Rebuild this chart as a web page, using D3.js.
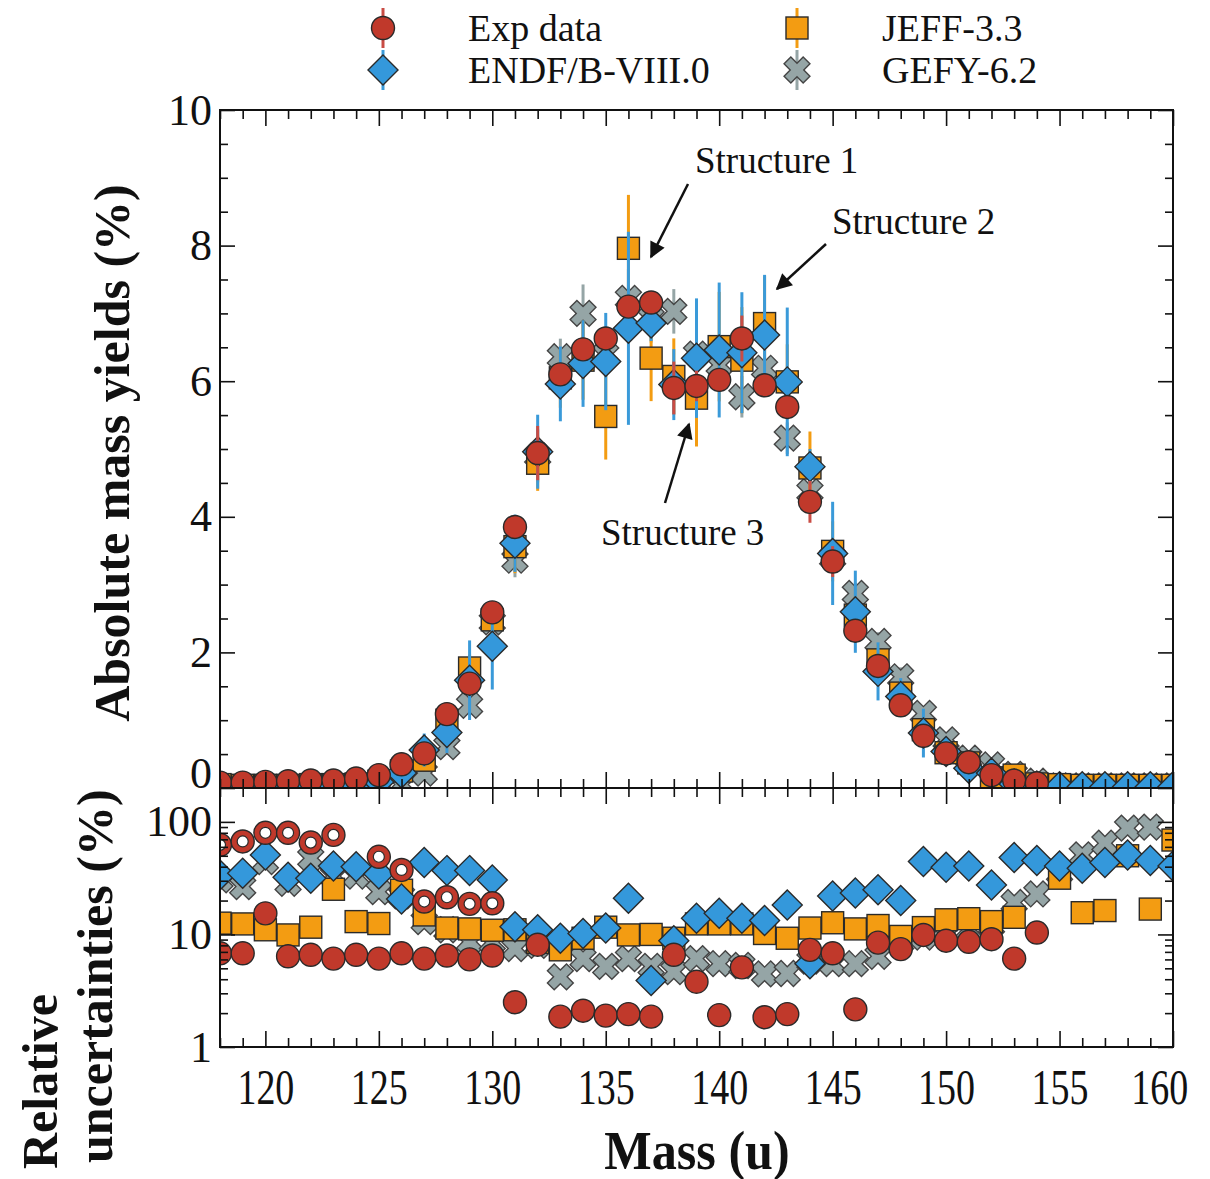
<!DOCTYPE html>
<html>
<head>
<meta charset="utf-8">
<script src="https://cdn.jsdelivr.net/npm/d3@7"></script>
<style>
  body { margin: 0; background: #fff; }
  text { font-family: "Liberation Serif", "Times New Roman", serif; fill: #111; }
</style>
</head>
<body>
<div id="chart"></div>
<script>
// ==============================
// DATA
// ==============================

const masses = [118, 119, 120, 121, 122, 123, 124, 125, 126, 127, 128, 129, 130, 131, 132, 133, 134, 135, 136, 137, 138,
  139, 140, 141, 142, 143, 144, 145, 146, 147, 148, 149, 150, 151, 152, 153, 154, 155, 156, 157, 158, 159, 160];

// Absolute mass yields (%)
const expYield = [0.08, 0.08, 0.09, 0.10, 0.11, 0.11, 0.14, 0.19, 0.35, 0.51, 1.09, 1.54, 2.59, 3.85, 4.94, 6.10, 6.47, 6.63, 7.10, 7.16, 5.90,
  5.93, 6.02, 6.63, 5.94, 5.62, 4.22, 3.34, 2.32, 1.80, 1.22, 0.77, 0.51, 0.38, 0.19, 0.11, 0.07, null, null, null, null, null, null];
const endfYield = [0.02, 0.02, 0.02, 0.02, 0.02, 0.03, 0.04, 0.09, 0.22, 0.56, 0.82, 1.59, 2.09, 3.61, 4.96, 5.96, 6.26, 6.29, 6.78, 6.86, 5.95,
  6.34, 6.46, 6.42, 6.68, 5.99, 4.74, 3.46, 2.60, 1.72, 1.35, 0.81, 0.54, 0.29, 0.22, 0.06, 0.03, 0.02, 0.02, 0.02, 0.02, 0.02, 0.02];
const jeffYield = [0.05, 0.04, 0.04, 0.04, 0.05, 0.05, 0.06, 0.10, 0.25, 0.41, 1.00, 1.77, 2.48, 3.56, 4.79, 6.05, 6.31, 5.48, 7.96, 6.34, 6.07,
  5.75, 6.51, 6.31, 6.85, 5.99, 4.72, 3.49, 2.55, 1.89, 1.40, 0.86, 0.52, 0.37, 0.15, 0.19, 0.06, 0.05, 0.04, 0.04, 0.04, 0.04, 0.04];
const gefyYield = [0.02, 0.02, 0.02, 0.02, 0.02, 0.02, 0.02, 0.02, 0.05, 0.22, 0.61, 1.22, 2.45, 3.36, 4.90, 6.36, 7.00, 6.40, 7.22, 6.93, 7.03,
  6.40, 6.24, 5.77, 6.19, 5.16, 4.37, 3.40, 2.87, 2.16, 1.64, 1.10, 0.71, 0.44, 0.34, 0.20, 0.10, 0.03, 0.03, 0.03, 0.03, 0.03, 0.03];

// Relative uncertainties (%)
const expRel = [6.8, 6.8, 15.4, 6.4, 6.6, 6.1, 6.6, 6.1, 6.8, 6.1, 6.5, 6.0, 6.5, 2.5, 8.1, 1.86, 2.1, 1.9, 1.96, 1.86, 6.6,
  3.8, 1.92, 5.1, 1.84, 1.96, 7.3, 6.8, 2.16, 8.45, 7.4, 9.9, 8.8, 8.6, 9.07, 6.1, 10.4, null, null, null, null, null, null];
const expRelOpen = [62.5, 67, 80, 80, 65.5, 76.6, null, 49, 37.4, 19.6, 21.4, 18.7, 18.9, null, null, null, null, null, null, null, null,
  null, null, null, null, null, null, null, null, null, null, null, null, null, null, null, null, null, null, null, null, null, null];
const endfRel = [33.8, 35, 50.9, 32.2, 31.6, 40.6, 40, 34.5, 20.6, 43.5, 36.9, 36.9, 30.5, 11.7, 11, 9.25, 10.2, 11.4, 21, 3.9, 8.8,
  13.9, 15.4, 13.9, 13.3, 18.3, 5.5, 22, 23.3, 24.9, 20, 44.4, 39.6, 40.5, 27.5, 48.2, 45.3, 40.5, 38.8, 43.5, 50.9, 45.3, 40.5];
const jeffRel = [12.6, 12.4, 11, 9.9, 11.6, 25.2, 13, 12.5, 24.7, 14.9, 11.4, 11.2, 10.9, 11, 8.5, 7.3, 9.25, 11.6, 9.9, 10, 9.25,
  12.4, 12.4, 12.4, 10.2, 9.25, 11.4, 12.7, 11.2, 12.0, 9.6, 11.5, 13.5, 13.8, 13.0, 14.2, null, 31.6, 15.6, 16.3, 50, 16.8, 69];
const gefyRel = [30.5, 26.6, 44.4, 28.5, 47.6, 33, 33, 24, 22, 13, 11, 8.6, 8.5, 7.5, 8, 4.2, 6.1, 5.2, 6.1, 5.2, 4.67,
  6.1, 5.5, 5.3, 4.46, 4.5, 5.8, 5.5, 5.5, 6.4, 8.5, 9.5, 10, 11, 12, 19.2, 22.9, 35, 50.9, 64.6, 88, 89.8, null];

// Axis ticks
const xMajorTicks = [120, 125, 130, 135, 140, 145, 150, 155, 160];
const yTopTicks = [0, 2, 4, 6, 8, 10];
const yBotTicks = [1, 10, 100];
const yBotMinor = [2, 3, 4, 5, 6, 7, 8, 9, 20, 30, 40, 50, 60, 70, 80, 90];

// Annotations
const notes = [
  { label: "Structure 1", tx: 695, ty: 173, from: [688, 184], to: [651, 257] },
  { label: "Structure 2", tx: 832, ty: 234, from: [826, 244], to: [777, 289] },
  { label: "Structure 3", tx: 601, ty: 545, from: [665, 503], to: [689, 424] }
];

// ==============================
// GENERAL SETUP
// ==============================

const width = 1210;
const height = 1179;
const plotL = 220, plotR = 1173, plotT = 110, plotM = 788, plotB = 1047;

const svg = d3.select("#chart")
  .append("svg")
  .attr("width", width)
  .attr("height", height)
  .style("background-color", "#fff");

const x = d3.scaleLinear().domain([118, 160]).range([plotL, plotR]);
const yTop = d3.scaleLinear().domain([0, 10]).range([plotM, plotT]);
const yBot = d3.scaleLog().domain([1, 200]).range([plotB, plotM]);

const defs = svg.append("defs");
defs.append("clipPath").attr("id", "clip-top")
  .append("rect").attr("x", plotL).attr("y", plotT).attr("width", plotR - plotL).attr("height", plotM - plotT);
defs.append("clipPath").attr("id", "clip-bot")
  .append("rect").attr("x", plotL).attr("y", plotM).attr("width", plotR - plotL).attr("height", plotB - plotM);
defs.append("marker")
  .attr("id", "arrow")
  .attr("viewBox", "0 0 10 10")
  .attr("refX", 9).attr("refY", 5)
  .attr("markerWidth", 8).attr("markerHeight", 8)
  .attr("markerUnits", "userSpaceOnUse")
  .attr("orient", "auto")
  .append("path").attr("d", "M0,0L10,5L0,10Z").attr("fill", "#111");
defs.select("#arrow").attr("markerWidth", 20).attr("markerHeight", 16);

// Series (drawn bottom to top)
const series = [
  { name: "GEFY-6.2", yields: gefyYield, rel: gefyRel, color: "#95a5a6", bar: "#95a5a6", shape: "cross" },
  { name: "JEFF-3.3", yields: jeffYield, rel: jeffRel, color: "#f39c12", bar: "#f39c12", shape: "square" },
  { name: "ENDF/B-VIII.0", yields: endfYield, rel: endfRel, color: "#3498db", bar: "#3a9ad9", shape: "diamond" },
  { name: "Exp data", yields: expYield, rel: expRel, color: "#c0392b", bar: "#c94c44", shape: "circle" }
];

// ==============================
// MARKERS
// ==============================

const crossPts = [[-4.8, -13.5], [4.8, -13.5], [4.8, -4.8], [13.5, -4.8], [13.5, 4.8], [4.8, 4.8],
  [4.8, 13.5], [-4.8, 13.5], [-4.8, 4.8], [-13.5, 4.8], [-13.5, -4.8], [-4.8, -4.8]];
const crossPath = "M" + crossPts.map(p => p.join(",")).join("L") + "Z";

function drawMarker(g, shape, color, open) {
  const edge = "#2a2a2a";
  if (shape === "circle") {
    g.append("circle").attr("r", 11.5).attr("fill", color).attr("stroke", edge).attr("stroke-width", 1.4);
    if (open) {
      g.append("circle").attr("r", 5.5).attr("fill", "#fff").attr("stroke", edge).attr("stroke-width", 1.2);
    }
  } else if (shape === "square") {
    g.append("rect").attr("x", -11).attr("y", -11).attr("width", 22).attr("height", 22)
      .attr("fill", color).attr("stroke", edge).attr("stroke-width", 1.4);
  } else if (shape === "diamond") {
    g.append("path").attr("d", "M0,-15L15,0L0,15L-15,0Z")
      .attr("fill", color).attr("stroke", edge).attr("stroke-width", 1.4);
  } else {
    g.append("path").attr("d", crossPath).attr("transform", "rotate(45)")
      .attr("fill", color).attr("stroke", "#444").attr("stroke-width", 1.4);
  }
}

// ==============================
// TOP PANEL: ABSOLUTE YIELDS
// ==============================

const topLayer = svg.append("g").attr("clip-path", "url(#clip-top)");

series.forEach(s => {
  const pts = masses.map((m, i) => ({ m, v: s.yields[i], r: s.rel[i] }))
    .filter(d => d.v != null);

  topLayer.append("g").selectAll("line")
    .data(pts.filter(d => d.r != null))
    .join("line")
    .attr("x1", d => x(d.m)).attr("x2", d => x(d.m))
    .attr("y1", d => yTop(d.v - d.v * d.r / 100))
    .attr("y2", d => yTop(d.v + d.v * d.r / 100))
    .attr("stroke", s.bar)
    .attr("stroke-width", 3);

  topLayer.append("g").selectAll("g")
    .data(pts)
    .join("g")
    .attr("transform", d => `translate(${x(d.m)},${yTop(d.v)})`)
    .each(function () { drawMarker(d3.select(this), s.shape, s.color, false); });
});

// ==============================
// BOTTOM PANEL: RELATIVE UNCERTAINTIES
// ==============================

const botLayer = svg.append("g").attr("clip-path", "url(#clip-bot)");

series.forEach(s => {
  const pts = masses.map((m, i) => ({ m, r: s.rel[i] })).filter(d => d.r != null);
  botLayer.append("g").selectAll("g")
    .data(pts)
    .join("g")
    .attr("transform", d => `translate(${x(d.m)},${yBot(d.r)})`)
    .each(function () { drawMarker(d3.select(this), s.shape, s.color, false); });
});

// open circles of the experiment
botLayer.append("g").selectAll("g")
  .data(masses.map((m, i) => ({ m, r: expRelOpen[i] })).filter(d => d.r != null))
  .join("g")
  .attr("transform", d => `translate(${x(d.m)},${yBot(d.r)})`)
  .each(function () { drawMarker(d3.select(this), "circle", "#c0392b", true); });

// ==============================
// AXES, TICKS AND FRAMES
// ==============================

const xMinor = masses.filter(m => !xMajorTicks.includes(m));

function styleAxis(g) {
  g.select(".domain").remove();
  g.selectAll(".tick line").attr("stroke", "#111").attr("stroke-width", 1.6);
}

// x ticks on all four horizontal edges
[
  { y: plotT, axis: d3.axisTop, dir: -1 },
  { y: plotM, axis: d3.axisBottom, dir: -1 },
  { y: plotM, axis: d3.axisBottom, dir: 1 },
  { y: plotB, axis: d3.axisBottom, dir: -1 }
].forEach(e => {
  svg.append("g").attr("transform", `translate(0,${e.y})`)
    .call(e.axis(x).tickValues(xMajorTicks).tickSize(16 * e.dir).tickFormat(""))
    .call(styleAxis);
  svg.append("g").attr("transform", `translate(0,${e.y})`)
    .call(e.axis(x).tickValues(xMinor).tickSize(9 * e.dir).tickFormat(""))
    .call(styleAxis);
});

// x tick labels
const xLabels = svg.append("g").attr("transform", `translate(0,${plotB})`)
  .call(d3.axisBottom(x).tickValues(xMajorTicks).tickSize(0).tickPadding(22))
  .call(g => g.select(".domain").remove());
xLabels.selectAll("text")
  .attr("font-size", 50)
  .attr("transform", "scale(0.76,1)")
  .attr("fill", "#111");
xLabels.selectAll(".tick").filter(d => d === 160).select("text").attr("x", -18);

// top panel y ticks
const yTopMinor = d3.range(0.5, 10, 1).concat(d3.range(1, 10, 2));
svg.append("g").attr("transform", `translate(${plotL},0)`)
  .call(d3.axisLeft(yTop).tickValues(yTopTicks).tickSize(-15).tickPadding(8))
  .call(styleAxis)
  .call(g => g.selectAll("text").attr("font-size", 44).attr("fill", "#111"))
  .call(g => g.selectAll(".tick").filter(d => d === 0).select("text").attr("dy", "-0.02em"));
svg.append("g").attr("transform", `translate(${plotL},0)`)
  .call(d3.axisLeft(yTop).tickValues(yTopMinor).tickSize(-8).tickFormat(""))
  .call(styleAxis);
svg.append("g").attr("transform", `translate(${plotR},0)`)
  .call(d3.axisRight(yTop).tickValues(yTopTicks).tickSize(-15).tickFormat(""))
  .call(styleAxis);
svg.append("g").attr("transform", `translate(${plotR},0)`)
  .call(d3.axisRight(yTop).tickValues(yTopMinor).tickSize(-8).tickFormat(""))
  .call(styleAxis);

// bottom panel log y ticks
svg.append("g").attr("transform", `translate(${plotL},0)`)
  .call(d3.axisLeft(yBot).tickValues(yBotTicks).tickSize(-15).tickPadding(8).tickFormat(d3.format("d")))
  .call(styleAxis)
  .call(g => g.selectAll("text").attr("font-size", 44).attr("fill", "#111"));
svg.append("g").attr("transform", `translate(${plotL},0)`)
  .call(d3.axisLeft(yBot).tickValues(yBotMinor).tickSize(-8).tickFormat(""))
  .call(styleAxis);
svg.append("g").attr("transform", `translate(${plotR},0)`)
  .call(d3.axisRight(yBot).tickValues(yBotTicks).tickSize(-15).tickFormat(""))
  .call(styleAxis);
svg.append("g").attr("transform", `translate(${plotR},0)`)
  .call(d3.axisRight(yBot).tickValues(yBotMinor).tickSize(-8).tickFormat(""))
  .call(styleAxis);

// frames
[[plotT, plotM], [plotM, plotB]].forEach(([t, b]) => {
  svg.append("rect")
    .attr("x", plotL).attr("y", t)
    .attr("width", plotR - plotL).attr("height", b - t)
    .attr("fill", "none").attr("stroke", "#111").attr("stroke-width", 2);
});

// ==============================
// AXIS TITLES
// ==============================

svg.append("text")
  .attr("transform", `translate(129,${(plotT + plotM) / 2 + 4}) rotate(-90)`)
  .attr("text-anchor", "middle")
  .attr("font-size", 50).attr("font-weight", "bold")
  .text("Absolute mass yields (%)");

svg.append("text")
  .attr("transform", "translate(57,1169) rotate(-90)")
  .attr("font-size", 50).attr("font-weight", "bold")
  .text("Relative");
svg.append("text")
  .attr("transform", "translate(112,1163) rotate(-90)")
  .attr("font-size", 50).attr("font-weight", "bold")
  .text("uncertainties (%)");

svg.append("text")
  .attr("transform", "translate(697,1169) scale(0.93,1)")
  .attr("text-anchor", "middle")
  .attr("font-size", 54).attr("font-weight", "bold")
  .text("Mass (u)");

// ==============================
// ANNOTATIONS
// ==============================

notes.forEach(n => {
  svg.append("line")
    .attr("x1", n.from[0]).attr("y1", n.from[1])
    .attr("x2", n.to[0]).attr("y2", n.to[1])
    .attr("stroke", "#111").attr("stroke-width", 2.5)
    .attr("marker-end", "url(#arrow)");
  svg.append("text")
    .attr("x", n.tx).attr("y", n.ty)
    .attr("font-size", 37)
    .text(n.label);
});

// ==============================
// LEGEND
// ==============================

const legendPos = {
  "Exp data": [383, 28],
  "JEFF-3.3": [797, 28],
  "ENDF/B-VIII.0": [383, 70],
  "GEFY-6.2": [797, 70]
};

series.forEach(s => {
  const [lx, ly] = legendPos[s.name];
  const g = svg.append("g").attr("transform", `translate(${lx},${ly})`);
  g.append("line").attr("y1", -20).attr("y2", 20).attr("stroke", s.bar).attr("stroke-width", 3);
  drawMarker(g, s.shape, s.color, false);
  svg.append("text")
    .attr("x", lx + 85).attr("y", ly + 13)
    .attr("font-size", 38)
    .text(s.name);
});
</script>
</body>
</html>
